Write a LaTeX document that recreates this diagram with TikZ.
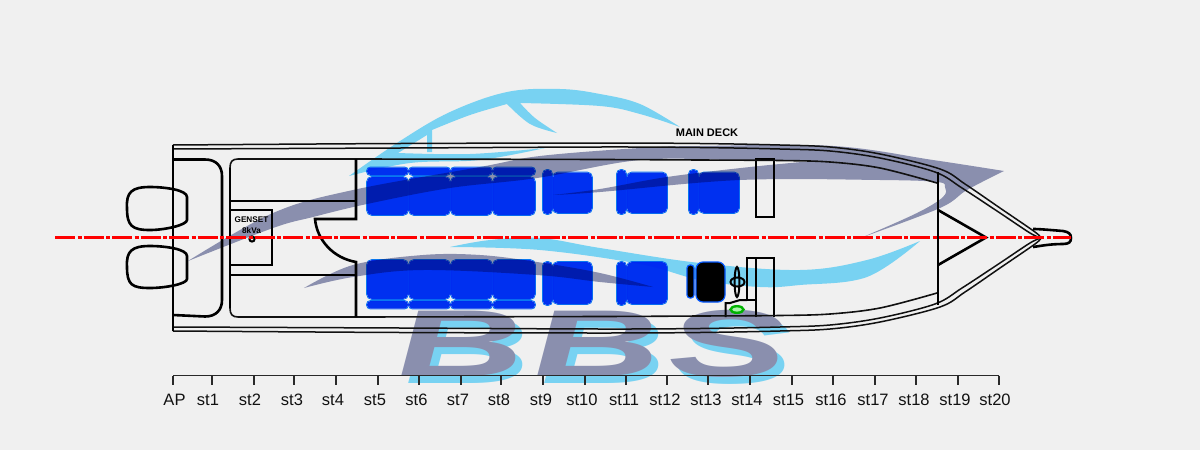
\documentclass[tikz,border=0pt]{standalone}
\usepackage{fontspec}
\setmainfont{Liberation Sans}
\usetikzlibrary{calc}
\definecolor{bgc}{HTML}{F0F0F0}
\definecolor{slate}{HTML}{8A8FAE}
\definecolor{skyc}{HTML}{78D2F2}
\definecolor{seatc}{HTML}{0033FF}
\definecolor{seatedge}{HTML}{0A80FF}
\definecolor{linec}{HTML}{111111}
\tikzset{
  hullline/.style={draw=linec,line width=1.5pt},
  deck/.style={draw=linec,line width=1.6pt},
  wall/.style={draw=black,line width=2.6pt},
  thinwall/.style={draw=black,line width=2pt},
  centre/.style={draw=red,line width=2.4pt,dash pattern=on 20pt off 2.5pt on 4pt off 2pt},
  tick/.style={draw=linec!90!white,line width=1.2pt},
  stlabel/.style={font=\fontsize{16.5}{18}\selectfont,text=linec,inner sep=0pt,anchor=center},
  blabel/.style={font=\bfseries\fontsize{95}{100}\selectfont\itshape,inner sep=0pt,anchor=center,xscale=1.88,xslant=-.055},
  gensettext/.style={font=\bfseries\fontsize{8.2}{9}\selectfont,inner sep=0pt},
}
\newcommand{\seatbox}[5]{%
  \draw[seatedge,line width=.8pt,rounded corners=#5pt] (#1-.4,#2-.4) rectangle (#3+.4,#4+.4);
  \fill[seatc,rounded corners=#5pt] (#1,#2) rectangle (#3,#4);
}
\newcommand{\hullpair}{%
  \draw[hullline] plot[smooth,tension=.55] coordinates {(173,145) (400,143.5) (600,143) (700,143.5) (780,145) (830,147) (880,154) (940,169) (965,184) (1000,208) (1035,232) (1041,238)};
  \draw[hullline] plot[smooth,tension=.55] coordinates {(173,149) (400,148) (600,147) (700,147.5) (780,149) (830,151) (880,158) (935,172) (962,188) (1000,213) (1030,233) (1041,238)};
  \draw[deck] (230,168) .. controls (230,162) and (232,159) .. (238,159) -- (356,159) -- plot[smooth,tension=.55] coordinates {(356,159) (600,159.5) (700,160) (780,160.5) (830,162) (880,168) (937,183)};
}
\begin{document}
\begin{tikzpicture}[x=1pt,y=-1pt]
\fill[bgc] (0,0) rectangle (1200,450);
\useasboundingbox (0,0) rectangle (1200,450);

% logo
\fill[skyc] plot[smooth,tension=.6] coordinates {(349,176) (400,141) (450,112) (507,92) (560,89) (600,94) (640,104) (680,127)}
   -- plot[smooth,tension=.6] coordinates {(680,127) (640,114) (600,106) (520,103)}
   -- plot[smooth,tension=.6] coordinates {(520,103) (535,118) (557,133)}
   -- plot[smooth,tension=.6] coordinates {(557,133) (530,124) (507,104)}
   -- plot[smooth,tension=.6] coordinates {(507,104) (470,115) (432,130)}
   -- (432,152) -- (427,152) -- (427,135) -- (398,153)
   -- plot[smooth,tension=.6] coordinates {(398,153) (470,154) (545,148)}
   -- plot[smooth,tension=.6] coordinates {(545,148) (480,160) (410,163) (349,176)} -- cycle;
\fill[skyc] plot[smooth,tension=.6] coordinates {(450,247) (490,240) (540,238) (600,248) (700,263) (800,270) (867,260) (920,241)}
   -- plot[smooth,tension=.6] coordinates {(920,241) (867,277) (800,285) (760,287) (700,280) (640,264) (540,250) (450,247)} -- cycle;
\node[blabel,text=skyc] (bshadow) at (598,351) {B\kern3.7pt B\kern3.7pt S};
\fill[slate] plot[smooth,tension=.6] coordinates {(188,261) (273,213) (353,190) (480,167) (540,156) (640,148) (700,146) (833,146) (933,160) (1004,171)}
   -- plot[smooth,tension=.6] coordinates {(1004,171) (967,190) (940,208) (863,237)}
   -- plot[smooth,tension=.6] coordinates {(863,237) (917,213) (943,197) (945,187) (937,182) (880,180) (740,180) (600,192) (553,195)}
   -- plot[smooth,tension=.6] coordinates {(553,195) (600,189) (667,177) (750,167) (813,161)}
   -- plot[smooth,tension=.6] coordinates {(813,161) (733,160) (640,160) (537,178) (450,188) (367,204) (313,217) (273,228) (188,261)} -- cycle;
\fill[slate] plot[smooth,tension=.6] coordinates {(304,288) (353,265) (423,255) (480,255) (537,262) (600,273) (653,287)}
   -- plot[smooth,tension=.6] coordinates {(653,287) (600,282) (537,275) (423,270) (353,277) (304,288)} -- cycle;
\node[blabel,text=slate] (blogo) at (591,344) {B\kern3.7pt B\kern3.7pt S};

% seats, multiplied onto the logo
\begin{scope}[blend mode=multiply]
\foreach \a/\b in {367/408,409/450,451/492,493/535}{
  \seatbox{\a}{177}{\b}{215}{5}
  \seatbox{\a}{167.5}{\b}{175}{3.5}
}
\foreach \a/\b/\c/\d in {543/552/553/592,617/626/627/667,689/698/699/739}{
  \seatbox{\a}{170}{\b}{214}{4}
  \seatbox{\c}{172.5}{\d}{213}{5}
}
\foreach \a/\b in {367/408,409/450,451/492,493/535}{
  \seatbox{\a}{260}{\b}{299}{5}
  \seatbox{\a}{301}{\b}{308.5}{3.5}
}
\foreach \a/\b/\c/\d in {543/552/553/592,617/626/627/667}{
  \seatbox{\a}{262}{\b}{305}{4}
  \seatbox{\c}{262}{\d}{304}{5}
}
\end{scope}

% helm seat, wheel, console
\filldraw[fill=black,draw=seatedge!50!seatc,line width=1.2pt,rounded corners=3pt] (687,265) rectangle (694,298);
\filldraw[fill=black,draw=seatedge!50!seatc,line width=1.2pt,rounded corners=7pt] (696,262) rectangle (725,302);
\draw[thinwall] (737,282) ellipse (2.4pt and 15pt);
\draw[thinwall] (737.5,282) ellipse (7pt and 4.5pt);
\draw[wall] (756,217) -- (756,159) -- (774,159) -- (774,217) -- cycle;
\draw[thinwall] (756,317) -- (756,258) -- (774,258) -- (774,317);
\draw[thinwall] (756,258) -- (747,258) -- (747,300) -- (756,300);
\draw[thinwall] (747,300) -- (740,300) -- (730,303) -- (725.5,303) -- (725.5,317);
\draw[draw=green!70!black,line width=2.4pt,fill=bgc!70!green] (737,309.5) ellipse (6.5pt and 3.3pt);

% hull
\hullpair
\begin{scope}[shift={(0,476)},yscale=-1]
  \hullpair
\end{scope}

% transom, engine well
\draw[wall] (173,145) -- (173,331);
\draw[wall] (173,159.5) -- (205,159.5) .. controls (216,159.5) and (222,166) .. (222,176) -- (222,300) .. controls (222,310) and (216,316.5) .. (205,316.5) -- (173,315);
\draw[wall] (127,208) .. controls (126,192) and (132,187) .. (150,187) .. controls (165,187) and (187,190) .. (187,197) -- (187,220) .. controls (187,225) and (165,230) .. (150,230) .. controls (132,230) and (127,226) .. (127,208) -- cycle;
\draw[wall] (127,267) .. controls (126,251) and (132,246) .. (150,246) .. controls (165,246) and (187,249) .. (187,256) -- (187,279) .. controls (187,284) and (165,288) .. (150,288) .. controls (132,288) and (127,285) .. (127,267) -- cycle;

% cabin
\draw[thinwall] (230,168) -- (230,308);
\draw[wall] (356,159) -- (356,219) -- (315,219) .. controls (317,240) and (333,258) .. (356,262) -- (356,317);
\draw[thinwall] (230,201) -- (356,201);
\draw[thinwall] (230,275) -- (356,275);
\draw[wall] (230,210) -- (272,210) -- (272,265) -- (230,265);
\node[gensettext] (genset) at (251.5,219.5) {GENSET};
\node[gensettext] (kva) at (251.5,230.5) {8kVa};
\draw[black,line width=2pt] (252,239) circle (2.6pt);

% bow
\draw[thinwall] (938,172) -- (938,305);
\draw[wall] (938,210) -- (986,237.5) -- (938,265);
\draw[wall] (1033,229) .. controls (1040,229) and (1050,230) .. (1063,231) .. controls (1069,232) and (1071,234) .. (1071,238) .. controls (1071,242) and (1069,244) .. (1063,244) .. controls (1050,244) and (1040,246) .. (1033,247);

% centre line
\coordinate (cla) at (55,237.5);
\coordinate (clb) at (1071,237.5);
\draw[centre] (cla) -- (clb);

\node[font=\bfseries\fontsize{11}{12}\selectfont,inner sep=0pt] (deckname) at (707,132.5) {MAIN DECK};

% ruler
\coordinate (ra) at (173,375.5);
\coordinate (rb) at (999,375.5);
\draw[tick] (ra) -- (rb);
\foreach \n/\t/\l/\x in {AP/173/AP/174.5,s1/212/st1/208,s2/254/st2/250,s3/294/st3/292,s4/336/st4/333,s5/378/st5/375,s6/419/st6/416.5,s7/461/st7/458,s8/501/st8/499,s9/543/st9/541,s10/585/st10/582,s11/626/st11/624,s12/667/st12/665,s13/708/st13/706,s14/750/st14/747,s15/792/st15/788.5,s16/833/st16/831,s17/875/st17/873,s18/916/st18/914,s19/958/st19/955,s20/999/st20/995}{
  \coordinate (t\n) at (\t,385);
  \draw[tick] (\t,375.5) -- (t\n);
  \node[stlabel] (l\n) at (\x,400) {\l};
}
\end{tikzpicture}
\end{document}
